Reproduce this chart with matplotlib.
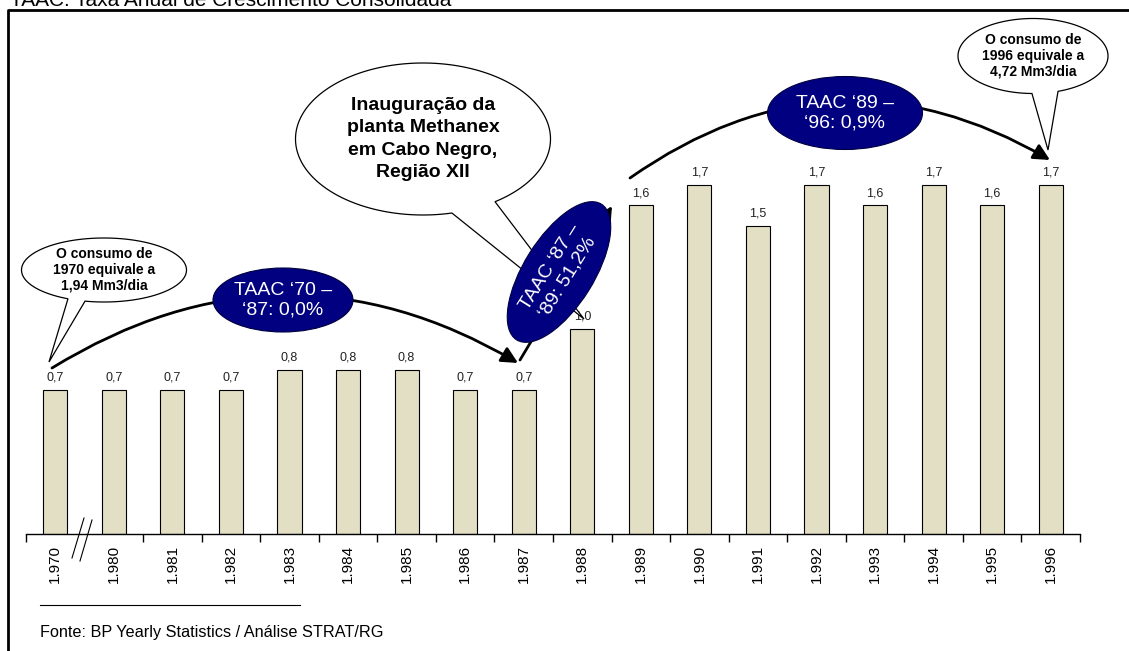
import numpy as np
import matplotlib
matplotlib.use("Agg")
import matplotlib.pyplot as plt
from matplotlib.patches import Ellipse, Polygon, FancyArrowPatch

plt.rcParams['font.family'] = ['Liberation Sans', 'DejaVu Sans']

# data
years = ['1.970', '1.980', '1.981', '1.982', '1.983', '1.984', '1.985', '1.986', '1.987',
         '1.988', '1.989', '1.990', '1.991', '1.992', '1.993', '1.994', '1.995', '1.996']
values = [0.7, 0.7, 0.7, 0.7, 0.8, 0.8, 0.8, 0.7, 0.7,
          1.0, 1.6, 1.7, 1.5, 1.7, 1.6, 1.7, 1.6, 1.7]

title_txt = 'TAAC: Taxa Anual de Crescimento Consolidada'
source_txt = 'Fonte: BP Yearly Statistics / Análise STRAT/RG'

W, H = 1129, 651
fig = plt.figure(figsize=(W / 100, H / 100), dpi=100)
fig.patch.set_facecolor('white')

# main bar axes
ax = fig.add_axes([26 / W, 117 / H, 1054 / W, 513.75 / H])
x = np.arange(len(values))
ax.bar(x, values, width=0.41, color='#E3DFC4', edgecolor='black', linewidth=0.8, zorder=2)
for xi, v in zip(x, values):
    ax.text(xi, v + 0.03, f'{v:.1f}'.replace('.', ','), ha='center', va='bottom',
            fontsize=9, color='#222222')
ax.set_xlim(-0.5, len(values) - 0.5)
ax.set_ylim(0, 2.5)
for s in ['top', 'right', 'left']:
    ax.spines[s].set_visible(False)
ax.spines['bottom'].set_linewidth(1.0)
ax.set_yticks([])
ax.set_xticks(x)
ax.set_xticklabels(years, rotation=90, fontsize=11)
ax.tick_params(axis='x', which='major', length=0, pad=8)
bounds = [b for b in np.arange(-0.5, len(values), 1.0) if b != 0.5]
ax.set_xticks(bounds, minor=True)
ax.tick_params(axis='x', which='minor', length=6, width=1.0, direction='out')
ax.patch.set_alpha(0)

# overlay in pixel coordinates for annotations
ov = fig.add_axes([0, 0, 1, 1])
ov.set_xlim(0, W)
ov.set_ylim(H, 0)
ov.axis('off')
ov.patch.set_alpha(0)

# frame
ov.plot([8, 8, W], [H, 10, 10], color='black', lw=2)
ov.text(10, 6, title_txt, fontsize=15, va='baseline', ha='left')

# source
ov.plot([40, 300], [605, 605], color='black', lw=0.8)
ov.text(40, 632, source_txt, fontsize=11.7, va='center', ha='left')

# axis break
ov.plot([72, 84], [558, 518], color='black', lw=0.8)
ov.plot([80, 92], [561, 520], color='black', lw=0.8)


def arrow(p1, p2, rad):
    a = FancyArrowPatch(p1, p2, connectionstyle=f'arc3,rad={rad}',
                        arrowstyle='-|>,head_length=0.7,head_width=0.35',
                        mutation_scale=14, lw=2, color='black',
                        shrinkA=0, shrinkB=0, zorder=3)
    ov.add_patch(a)


arrow((52, 368), (518, 363), -0.30)
arrow((520, 360), (612, 206), 0.0)
arrow((630, 178), (1050, 160), -0.32)


def bubble(cx, cy, w, h, t_hi, t_lo, tip, text, size, lsp):
    t = np.radians(np.linspace(t_hi, t_lo + 360, 200))
    pts = np.column_stack([cx + w / 2 * np.cos(t), cy + h / 2 * np.sin(t)])
    pts = np.vstack([pts, [tip]])
    ov.add_patch(Polygon(pts, closed=True, facecolor='white', edgecolor='black',
                         lw=0.9, zorder=4))
    ov.text(cx, cy, text, ha='center', va='center', multialignment='center',
            fontsize=size, fontweight='bold', linespacing=lsp, zorder=5)


bubble(104, 270, 165, 64, 115.9, 103.3, (49, 362),
       'O consumo de\n1970 equivale a\n1,94 Mm3/dia', 10, 1.15)
bubble(423, 139, 255, 152, 76.9, 55.6, (584, 319),
       'Inauguração da\nplanta Methanex\nem Cabo Negro,\nRegião XII', 14, 1.4)
bubble(1033, 56, 150, 75, 90.8, 70.5, (1048, 150),
       'O consumo de\n1996 equivale a\n4,72 Mm3/dia', 10, 1.15)


def oval(cx, cy, w, h, ang, text):
    ov.add_patch(Ellipse((cx, cy), w, h, angle=-ang, facecolor='#000080',
                         edgecolor='#000040', lw=0.8, zorder=6))
    ov.text(cx, cy, text, ha='center', va='center', multialignment='center',
            rotation=ang, fontsize=14, color='white', zorder=7)


oval(283, 300, 140, 64, 0, 'TAAC \u201870 \u2013\n\u201887: 0,0%')
oval(559, 272, 160, 70, 58, 'TAAC \u201887 \u2013\n\u201889: 51,2%')
oval(845, 113, 155, 73, 0, 'TAAC \u201889 \u2013\n\u201896: 0,9%')

fig.savefig('out.png', dpi=100)
